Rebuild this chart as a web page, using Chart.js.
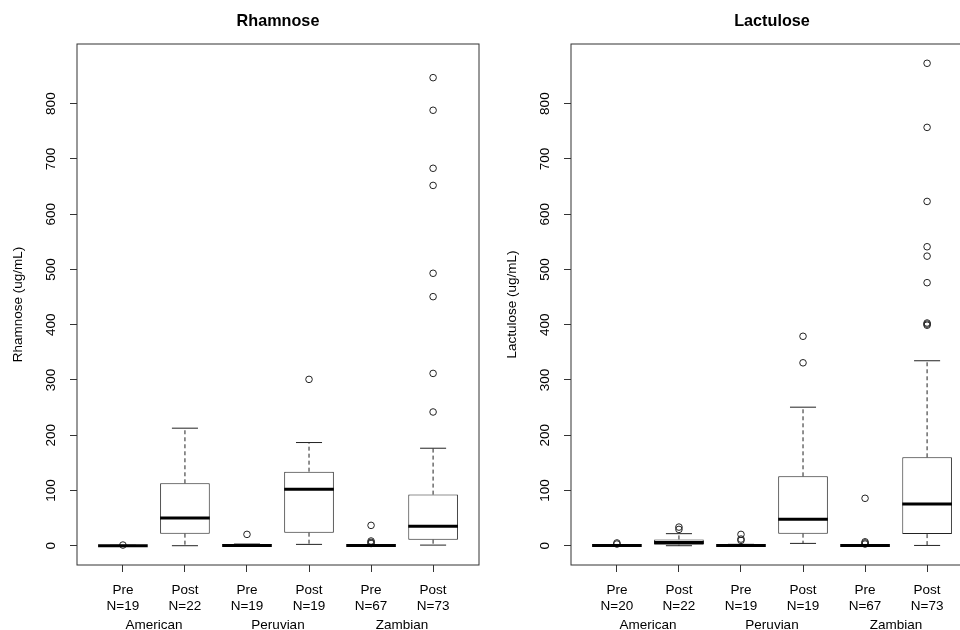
<!DOCTYPE html>
<html>
<head>
<meta charset="utf-8">
<script src="https://cdn.jsdelivr.net/npm/chart.js@4.4.1/dist/chart.umd.min.js"></script>
<style>
  body { margin: 0; width: 960px; height: 630px; overflow: hidden; position: relative; background: #fff; }
  canvas { position: absolute; top: 0; }
</style>
</head>
<body>
<canvas id="rham" width="484" height="630" style="left:0"></canvas>
<canvas id="lact" width="484" height="630" style="left:494px"></canvas>
<script>
// x categories
const CONDITIONS = ['Pre', 'Post', 'Pre', 'Post', 'Pre', 'Post'];
const GROUPS = ['American', 'Peruvian', 'Zambian'];
const Y_TICKS = [0, 100, 200, 300, 400, 500, 600, 700, 800];
const Y_MIN = -34.9;
const Y_MAX = 907.9;

// Rhamnose (ug/mL)
const RHAM_N = [19, 22, 19, 19, 67, 73];
const RHAM_LOW = [0, 0, 0, 2.4, 0, 1.1];
const RHAM_Q1 = [0, 21.8, 0, 23.6, 0, 10.9];
const RHAM_MED = [0, 50, 0.5, 102, 0.3, 35];
const RHAM_Q3 = [0.6, 113, 2, 134, 1, 92.5];
const RHAM_HIGH = [0.8, 212.7, 3, 186.7, 2, 176.4];
const RHAM_OUT = [[1.2], [], [20.5], [301], [36.8, 8.5, 6, 4],
    [242, 311.8, 450.7, 493, 652, 683, 788, 847]];

// Lactulose (ug/mL)
const LACT_N = [20, 22, 19, 19, 67, 73];
const LACT_LOW = [0, 0, 0, 4.2, 0, 0.5];
const LACT_Q1 = [0, 1.8, 0, 21.8, 0, 21];
const LACT_MED = [0.3, 6, 0.4, 47.7, 0.3, 75.4];
const LACT_Q3 = [0.8, 11.4, 1.5, 125.6, 1, 160];
const LACT_HIGH = [1.2, 21.8, 2.5, 250.7, 2, 334.7];
const LACT_OUT = [[3, 5], [29.5, 33.7], [20.5, 12, 9.6], [331, 379], [85.8, 7, 5, 3],
    [399, 401, 403, 476, 524, 541, 623, 757, 873]];

const FONT = '"Liberation Sans", Arial, Helvetica, sans-serif';
const INK = '#222';

function makeChart(id, title, yTitle, n, low, q1, med, q3, high, out) {
    // whiskers, caps, medians, title, group names
    const boxParts = {
        id: 'boxParts',
        afterDatasetsDraw(chart) {
            const { ctx, scales: { x, y } } = chart;
            ctx.save();
            ctx.strokeStyle = INK;
            for (let i = 0; i < q1.length; i++) {
                const pos = i + 1;
                const cx = x.getPixelForValue(pos);
                const capL = x.getPixelForValue(pos - 0.21);
                const capR = x.getPixelForValue(pos + 0.21);
                // dashed whiskers
                ctx.lineWidth = 1;
                ctx.setLineDash([4, 3]);
                ctx.beginPath();
                ctx.moveTo(cx, y.getPixelForValue(q3[i]));
                ctx.lineTo(cx, y.getPixelForValue(high[i]));
                ctx.moveTo(cx, y.getPixelForValue(q1[i]));
                ctx.lineTo(cx, y.getPixelForValue(low[i]));
                ctx.stroke();
                ctx.setLineDash([]);
                ctx.beginPath();
                ctx.moveTo(capL, y.getPixelForValue(high[i]));
                ctx.lineTo(capR, y.getPixelForValue(high[i]));
                ctx.moveTo(capL, y.getPixelForValue(low[i]));
                ctx.lineTo(capR, y.getPixelForValue(low[i]));
                ctx.stroke();
                // median
                ctx.lineWidth = 3;
                ctx.strokeStyle = '#000';
                ctx.beginPath();
                ctx.moveTo(x.getPixelForValue(pos - 0.4), y.getPixelForValue(med[i]));
                ctx.lineTo(x.getPixelForValue(pos + 0.4), y.getPixelForValue(med[i]));
                ctx.stroke();
                ctx.strokeStyle = INK;
            }
            ctx.restore();
        },
        afterDraw(chart) {
            const { ctx, chartArea: a, scales: { x } } = chart;
            ctx.save();
            // plot frame
            ctx.strokeStyle = '#333';
            ctx.lineWidth = 1;
            ctx.strokeRect(a.left, a.top, a.right - a.left, a.bottom - a.top);
            ctx.fillStyle = '#000';
            ctx.textAlign = 'center';
            ctx.textBaseline = 'middle';
            ctx.font = 'bold 16.2px ' + FONT;
            ctx.fillText(title, (a.left + a.right) / 2, 22);
            ctx.font = '13.5px ' + FONT;
            GROUPS.forEach((g, k) => {
                ctx.fillText(g, x.getPixelForValue(2 * k + 1.5), x.top + 60);
            });
            ctx.restore();
        }
    };

    new Chart(document.getElementById(id), {
        type: 'bar',
        data: {
            datasets: [
                {
                    type: 'scatter',
                    data: out.flatMap((arr, i) => arr.map(v => ({ x: i + 1, y: v }))),
                    pointStyle: 'circle',
                    pointRadius: 3.3,
                    borderWidth: 1,
                    borderColor: INK,
                    backgroundColor: 'rgba(0,0,0,0)'
                },
                {
                    data: q1.map((v, i) => ({ x: i + 1, y: [v, q3[i]] })),
                    backgroundColor: '#fff',
                    borderColor: INK,
                    borderWidth: 1,
                    borderSkipped: false,
                    barPercentage: 0.8,
                    categoryPercentage: 1
                }
            ]
        },
        options: {
            responsive: false,
            animation: false,
            layout: { padding: { top: 44, right: 1, left: 0, bottom: 0 } },
            plugins: {
                legend: { display: false },
                tooltip: { enabled: false }
            },
            scales: {
                x: {
                    type: 'linear',
                    offset: false,
                    min: 0.26,
                    max: 6.74,
                    afterBuildTicks: (s) => { s.ticks = CONDITIONS.map((c, i) => ({ value: i + 1 })); },
                    afterFit: (s) => { s.height = 65; s.paddingLeft = 0; s.paddingRight = 0; },
                    grid: { offset: false, drawOnChartArea: false, tickLength: 7, tickColor: '#333' },
                    border: { display: false },
                    ticks: {
                        autoSkip: false,
                        maxRotation: 0,
                        padding: 10,
                        color: '#000',
                        font: { family: FONT, size: 13.5, lineHeight: 1.22 },
                        callback: (v) => {
                            const i = Math.round(v) - 1;
                            return [CONDITIONS[i], 'N=' + n[i]];
                        }
                    }
                },
                y: {
                    type: 'linear',
                    min: Y_MIN,
                    max: Y_MAX,
                    afterBuildTicks: (s) => { s.ticks = Y_TICKS.map(v => ({ value: v })); },
                    afterFit: (s) => { s.width = 77; s.paddingTop = 0; s.paddingBottom = 0; },
                    grid: { drawOnChartArea: false, tickLength: 7, tickColor: '#333' },
                    border: { display: false },
                    title: {
                        display: true,
                        text: yTitle,
                        color: '#000',
                        padding: { top: 10, bottom: 0 },
                        font: { family: FONT, size: 13.5 }
                    },
                    ticks: {
                        autoSkip: false,
                        minRotation: 90,
                        maxRotation: 90,
                        crossAlign: 'center',
                        padding: 7,
                        color: '#000',
                        font: { family: FONT, size: 13.5 }
                    }
                }
            }
        },
        plugins: [boxParts]
    });
}

makeChart('rham', 'Rhamnose', 'Rhamnose (ug/mL)', RHAM_N,
    RHAM_LOW, RHAM_Q1, RHAM_MED, RHAM_Q3, RHAM_HIGH, RHAM_OUT);
makeChart('lact', 'Lactulose', 'Lactulose (ug/mL)', LACT_N,
    LACT_LOW, LACT_Q1, LACT_MED, LACT_Q3, LACT_HIGH, LACT_OUT);
</script>
</body>
</html>
